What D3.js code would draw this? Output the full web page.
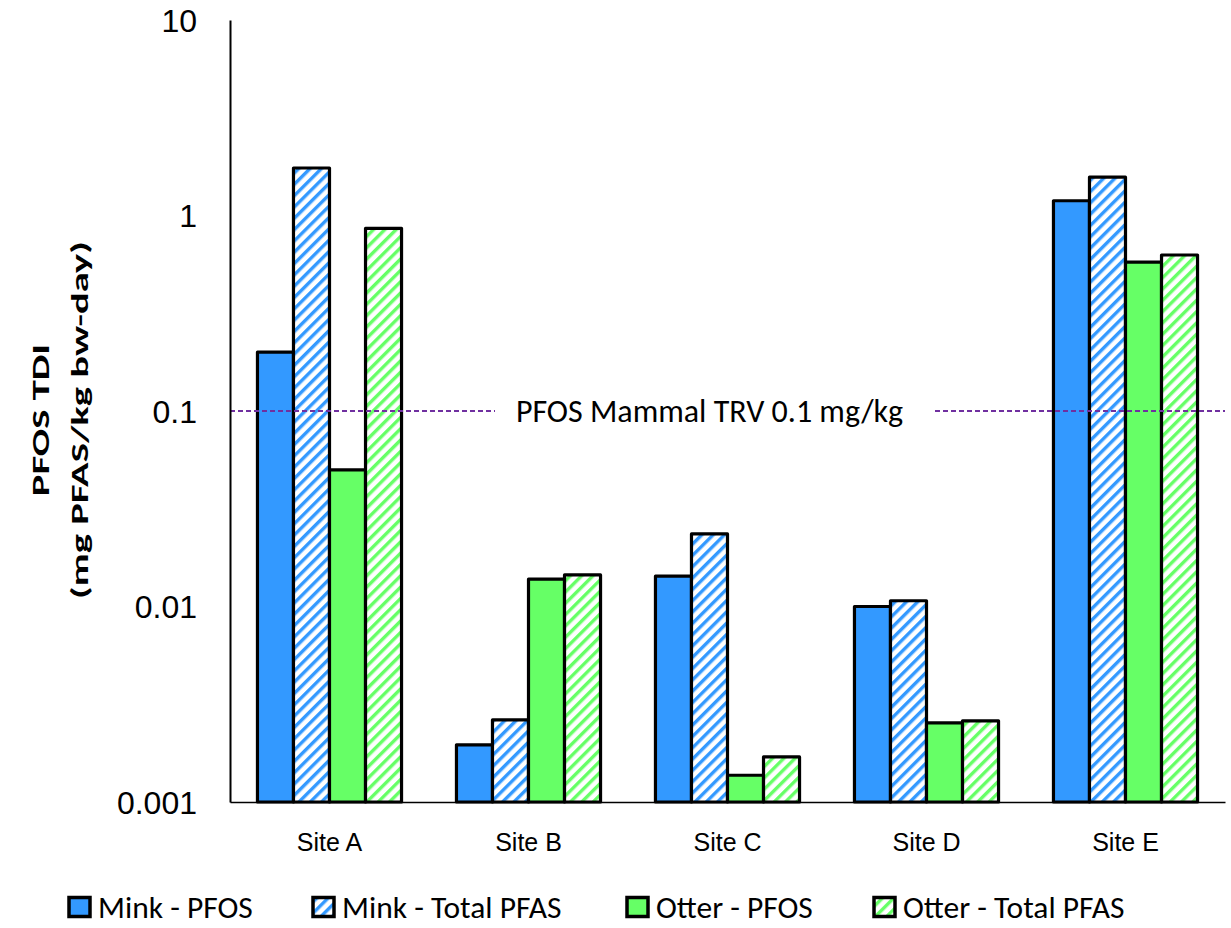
<!DOCTYPE html>
<html>
<head>
<meta charset="utf-8">
<script src="https://cdn.jsdelivr.net/npm/d3@7"></script>
<style>
  body { margin: 0; background: #fff; }
  svg { display: block; font-family: Carlito, "Open Sans", "Noto Sans", sans-serif; }
</style>
</head>
<body>
<svg id="chart" width="1231" height="928"></svg>
<script>
// Sites along the x axis
const sites = ["Site A", "Site B", "Site C", "Site D", "Site E"];
// Series shown for each site
const seriesNames = ["Mink - PFOS", "Mink - Total PFAS", "Otter - PFOS", "Otter - Total PFAS"];
// Total daily intake (mg PFAS/kg bw-day) per site
const minkPFOS   = [0.20, 0.00196, 0.0143, 0.0100, 1.19];
const minkTotal  = [1.75, 0.00263, 0.0235, 0.0107, 1.57];
const otterPFOS  = [0.050, 0.0138, 0.00137, 0.00254, 0.578];
const otterTotal = [0.86, 0.0145, 0.0017, 0.0026, 0.628];
// Log axis tick values and labels
const yTicks = [0.001, 0.01, 0.1, 1, 10];
const yTickLabels = ["0.001", "0.01", "0.1", "1", "10"];
// Toxicity reference value
const trvValue = 0.1;
const trvLabel = "PFOS Mammal TRV 0.1 mg/kg";

const seriesValues = [minkPFOS, minkTotal, otterPFOS, otterTotal];
const seriesColor = ["#3399FF", "#3399FF", "#66FF66", "#66FF66"];
const seriesHatched = [false, true, false, true];

const svg = d3.select("#chart");
const margin = { left: 230, right: 6, top: 20, bottom: 126 };
const W = 1231, H = 928;
const plotW = W - margin.left - margin.right;
const plotH = H - margin.top - margin.bottom;

const defs = svg.append("defs");
["blue", "green"].forEach((name, i) => {
  const c = i === 0 ? "#3399FF" : "#66FF66";
  const p = defs.append("pattern")
    .attr("id", "hatch-" + name)
    .attr("patternUnits", "userSpaceOnUse")
    .attr("width", 8).attr("height", 8)
    .attr("patternTransform", "rotate(45)");
  p.append("rect").attr("width", 8).attr("height", 8).attr("fill", "#fff");
  p.append("rect").attr("x", 0).attr("y", 0).attr("width", 3.4).attr("height", 8).attr("fill", c);
});
const fillFor = s => seriesHatched[s] ? (s < 2 ? "url(#hatch-blue)" : "url(#hatch-green)") : seriesColor[s];

const g = svg.append("g").attr("transform", `translate(${margin.left},${margin.top})`);

const x = d3.scaleBand().domain(sites).range([0, plotW]).paddingInner(0.276).paddingOuter(0.138);
const xs = d3.scaleBand().domain(d3.range(seriesNames.length)).range([0, x.bandwidth()]).padding(0);
const y = d3.scaleLog().domain([0.001, 10]).range([plotH, 0]);

// Bars
sites.forEach((site, i) => {
  seriesValues.forEach((vals, s) => {
    g.append("rect")
      .attr("x", x(site) + xs(s))
      .attr("y", y(vals[i]))
      .attr("width", xs.bandwidth())
      .attr("height", plotH - y(vals[i]))
      .attr("fill", fillFor(s))
      .attr("stroke", "#000")
      .attr("stroke-width", 3.2)
      .attr("stroke-linejoin", "round");
  });
});

// TRV reference line with a gap for its label
const trvY = y(trvValue);
g.append("text")
  .attr("x", 709.5 - margin.left)
  .attr("y", trvY)
  .attr("dy", "0.35em")
  .attr("text-anchor", "middle")
  .attr("font-size", 32)
  .attr("fill", "#000")
  .text(trvLabel);
const dashAttrs = sel => sel.attr("stroke", "#7030A0").attr("stroke-width", 2).attr("stroke-dasharray", "5,3");
dashAttrs(g.append("line").attr("x1", 0).attr("x2", 495 - margin.left).attr("y1", trvY).attr("y2", trvY));
dashAttrs(g.append("line").attr("x1", 935 - margin.left).attr("x2", plotW).attr("y1", trvY).attr("y2", trvY));

// Axes
const yAxis = d3.axisLeft(y).tickValues(yTicks).tickFormat((d, i) => yTickLabels[i]).tickSize(0).tickPadding(33);
const ya = g.append("g").call(yAxis);
ya.select(".domain").attr("stroke", "#000").attr("stroke-width", 2);
ya.selectAll("text").attr("font-size", 32).attr("font-family", null).attr("fill", "#000").attr("dy", "0.35em");

const xAxis = d3.axisBottom(x).tickSize(0).tickPadding(31);
const xa = g.append("g").attr("transform", `translate(0,${plotH})`).call(xAxis);
xa.select(".domain").attr("stroke", "#000").attr("stroke-width", 1.6);
xa.selectAll("text").attr("font-size", 25).attr("font-family", null).attr("fill", "#000");

// Y axis title, two lines, stretched along the reading direction
const titleG = svg.append("g").attr("transform", "translate(0,420) rotate(-90)");
const yt = titleG.append("text")
  .attr("text-anchor", "middle")
  .attr("font-size", 25)
  .attr("font-weight", "bold")
  .attr("fill", "#000");
yt.append("tspan").attr("x", 0).attr("y", 49).text("PFOS TDI");
const line2 = yt.append("tspan").attr("x", 0).attr("y", 88).text("(mg PFAS/kg bw-day)");
const len2 = line2.node().getComputedTextLength();
const stretch = 358 / len2;
titleG.attr("transform", `translate(0,420) rotate(-90) scale(${stretch},1)`);

// Legend
const legendX = [69, 313, 627, 874];
const legend = svg.append("g").attr("transform", "translate(0,907)");
seriesNames.forEach((name, s) => {
  legend.append("rect")
    .attr("x", legendX[s]).attr("y", -9.5)
    .attr("width", 21).attr("height", 19)
    .attr("fill", fillFor(s))
    .attr("stroke", "#000").attr("stroke-width", 3.5);
  legend.append("text")
    .attr("x", legendX[s] + 29).attr("y", 0).attr("dy", "0.35em")
    .attr("font-size", 31.5).attr("fill", "#000")
    .text(name);
});
</script>
</body>
</html>
